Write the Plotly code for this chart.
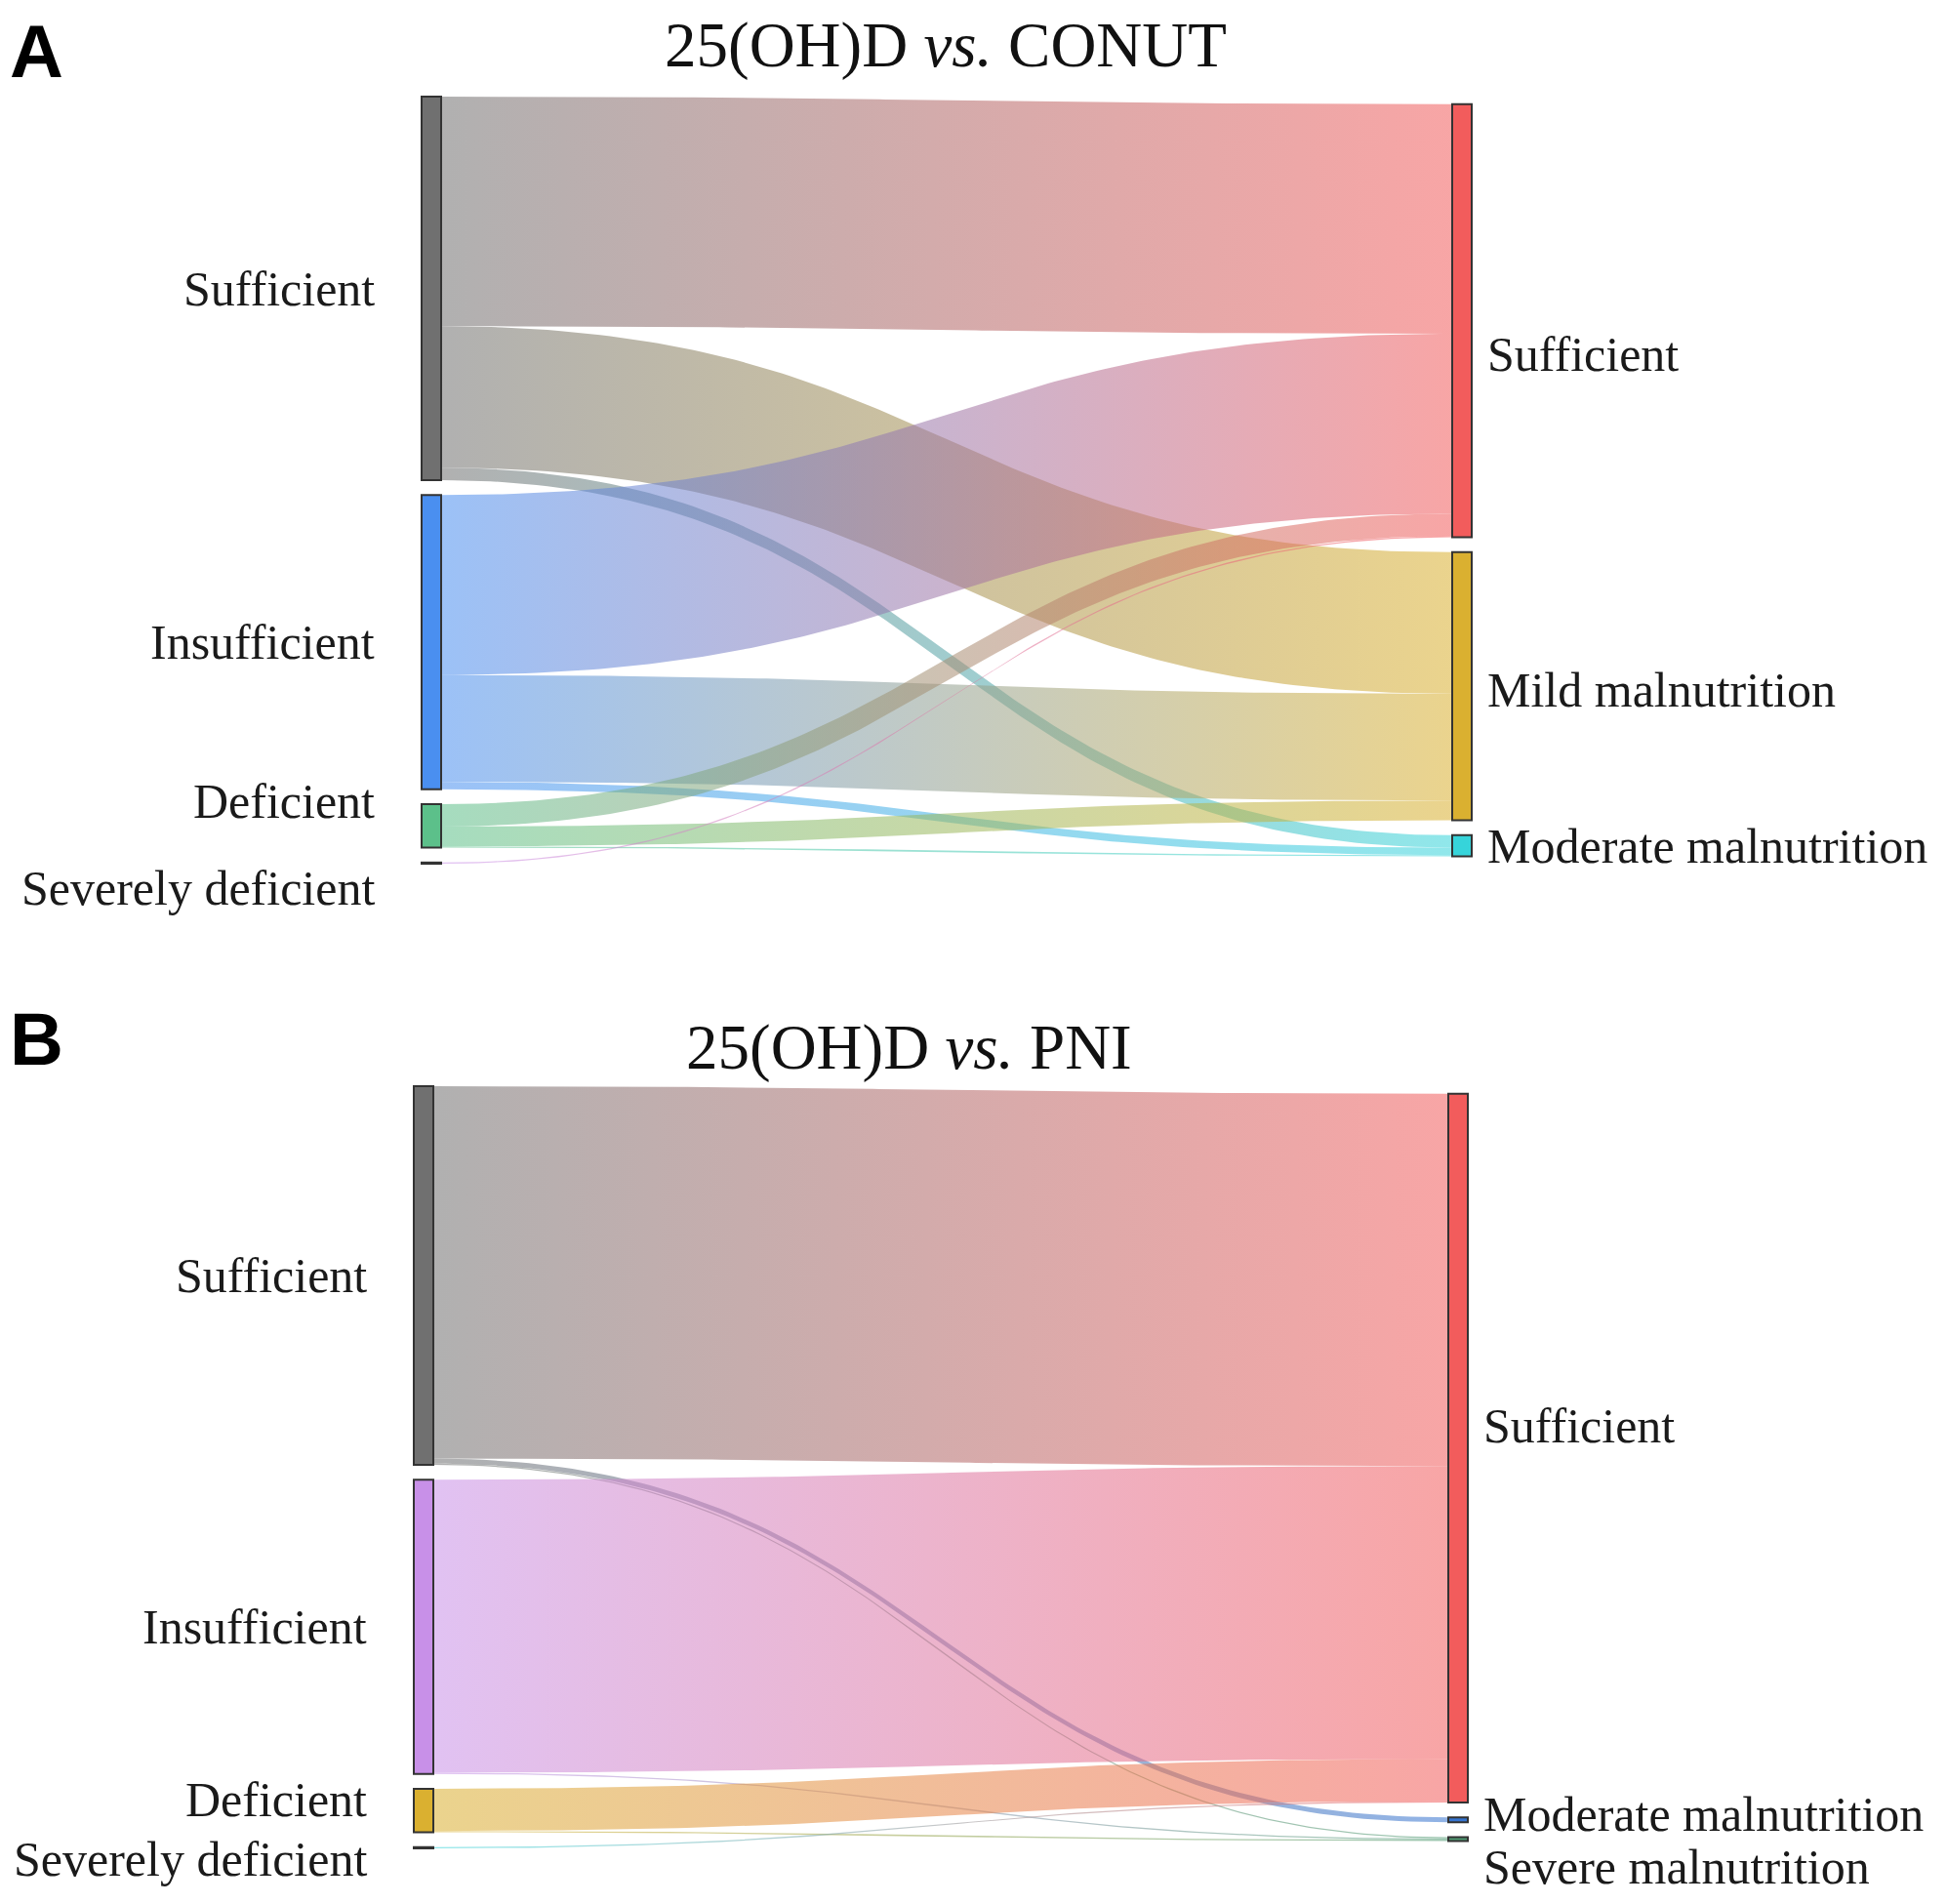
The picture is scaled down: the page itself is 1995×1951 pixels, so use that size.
import numpy as np
import plotly.graph_objects as go

W, H = 1995, 1951
OFF = 8  # page body margin of the html page

# left column (25(OH)D status), same in both panels
vitd = ["Sufficient", "Insufficient", "Deficient", "Severely deficient"]

# A: 25(OH)D vs. CONUT
conut = ["Sufficient", "Mild malnutrition", "Moderate malnutrition"]
a_src = [0, 0, 0, 1, 1, 1, 2, 2, 2, 3]
a_tgt = [0, 1, 2, 0, 1, 2, 0, 1, 2, 0]
a_val = [185, 114, 10, 145, 86, 6, 18, 16, 1, 1]

# B: 25(OH)D vs. PNI
pni = ["Sufficient", "Moderate malnutrition", "Severe malnutrition"]
b_src = [0, 0, 0, 1, 1, 2, 2, 3]
b_tgt = [0, 1, 2, 0, 2, 0, 2, 0]
b_val = [300, 4, 1, 236, 1, 34, 1, 1]

a_left_col = ["#707070", "#4a8ff0", "#5cc08a", "#c890e8"]
a_right_col = ["#f25c5c", "#dab030", "#36d4da"]
b_left_col = ["#707070", "#c890e8", "#dab030", "#36d4da"]
b_right_col = ["#f25c5c", "#3674d0", "#4f9a72"]

K = 1.272      # px per count
GAP = 12       # gap between nodes, in counts
PAD = 40       # extra axis room so labels are not dropped
NODE_W = 20
ALPHA = 0.55
FONT = "Liberation Serif"


def rgba(hexcol, a=ALPHA):
    h = hexcol.lstrip("#")
    r, g, b = int(h[0:2], 16), int(h[2:4], 16), int(h[4:6], 16)
    return "rgba(%d,%d,%d,%.2f)" % (r, g, b, a)


def stack(sizes, span):
    total = sum(sizes) + GAP * (len(sizes) - 1)
    y = (span - total) / 2
    out = []
    for s in sizes:
        out.append(y)
        y += s + GAP
    return out


def spread(centers, sep):
    ys = list(centers)
    for _ in range(20):
        for i in range(len(ys) - 1):
            if ys[i + 1] - ys[i] < sep:
                m = (ys[i] + ys[i + 1]) / 2
                ys[i], ys[i + 1] = m - sep / 2, m + sep / 2
    return ys


fig = go.Figure()


def draw(n, left, right, src, tgt, val, lcol, rcol, top, xl, xr, sep, rnudge,
         title, tx, ty, letter):
    xa = "x" if n == 1 else "x%d" % n
    ya = "y" if n == 1 else "y%d" % n
    top, xl, xr, tx, ty = top - OFF, xl - OFF, xr - OFF, tx - OFF, ty - OFF
    lsize = [sum(v for s, v in zip(src, val) if s == i) for i in range(len(left))]
    rsize = [sum(v for t, v in zip(tgt, val) if t == j) for j in range(len(right))]
    span = max(sum(lsize) + GAP * (len(lsize) - 1), sum(rsize) + GAP * (len(rsize) - 1))
    ly = stack(lsize, span)
    ry = stack(rsize, span)

    # where each link leaves / enters its nodes
    lo, ro = list(ly), list(ry)
    ys, yt = {}, {}
    for i in sorted(range(len(val)), key=lambda i: (src[i], tgt[i])):
        ys[i] = lo[src[i]]
        lo[src[i]] += val[i]
    for i in sorted(range(len(val)), key=lambda i: (tgt[i], src[i])):
        yt[i] = ro[tgt[i]]
        ro[tgt[i]] += val[i]

    t = np.linspace(0, 1, 120)
    x0, x1 = xl + NODE_W, xr
    xs = x0 + (x1 - x0) * (1.5 * t * (1 - t) + t ** 3)
    ease = 3 * t ** 2 - 2 * t ** 3
    for i in range(len(val)):
        up = ys[i] + (yt[i] - ys[i]) * ease
        lo_ = up + val[i]
        fig.add_trace(go.Scatter(
            x=np.concatenate([xs, xs[::-1]]),
            y=np.concatenate([up, lo_[::-1]]),
            mode="lines", fill="toself", line=dict(width=0),
            fillgradient=dict(type="horizontal",
                              colorscale=[[0, rgba(lcol[src[i]])], [1, rgba(rcol[tgt[i]])]],
                              start=x0, stop=x1),
            hoverinfo="skip", showlegend=False, xaxis=xa, yaxis=ya))

    for j in range(len(left)):
        fig.add_shape(type="rect", xref=xa, yref=ya, x0=xl, x1=xl + NODE_W,
                      y0=ly[j], y1=ly[j] + lsize[j], fillcolor=lcol[j],
                      line=dict(color="#333333", width=2))
    for j in range(len(right)):
        fig.add_shape(type="rect", xref=xa, yref=ya, x0=xr, x1=xr + NODE_W,
                      y0=ry[j], y1=ry[j] + rsize[j], fillcolor=rcol[j],
                      line=dict(color="#333333", width=2))

    lc = spread([ly[j] + lsize[j] / 2 for j in range(len(left))], sep)
    rc = spread([ry[j] + rsize[j] / 2 for j in range(len(right))], sep)
    for j, name in enumerate(left):
        fig.add_annotation(x=xl - 46, y=lc[j], xref=xa, yref=ya, text=name,
                           xanchor="right", yanchor="middle", showarrow=False,
                           font=dict(family=FONT, size=50, color="#1a1a1a"))
    for j, name in enumerate(right):
        fig.add_annotation(x=xr + NODE_W + 14, y=rc[j] + rnudge[j], xref=xa, yref=ya,
                           text=name, xanchor="left", yanchor="middle", showarrow=False,
                           font=dict(family=FONT, size=50, color="#1a1a1a"))

    fig.add_annotation(x=tx / W, y=1 - max(ty - 32, 0) / H, xref="paper", yref="paper",
                       text=title, xanchor="center", yanchor="top", showarrow=False,
                       font=dict(family=FONT, size=65, color="#111111"))
    fig.add_annotation(x=0, y=1 - max(ty - 47, 0) / H, xref="paper", yref="paper",
                       text="<b>%s</b>" % letter, xanchor="left", yanchor="top",
                       showarrow=False, font=dict(family="Liberation Sans", size=76, color="#000000"))

    dom = [1 - (top + (span + PAD) * K) / H, 1 - (top - PAD * K) / H]
    fig.update_layout(**{
        ("xaxis" if n == 1 else "xaxis%d" % n): dict(domain=[0, 1], range=[0, W], visible=False,
                                                     anchor=ya, fixedrange=True),
        ("yaxis" if n == 1 else "yaxis%d" % n): dict(domain=dom, range=[span + PAD, -PAD],
                                                     visible=False, anchor=xa, fixedrange=True),
    })


draw(1, vitd, conut, a_src, a_tgt, a_val, a_left_col, a_right_col,
     top=99, xl=432, xr=1488, sep=70, rnudge=[27, 3, 0],
     title="25(OH)D <i>vs.</i> CONUT", tx=969, ty=40, letter="A")
draw(2, vitd, pni, b_src, b_tgt, b_val, b_left_col, b_right_col,
     top=1113, xl=424, xr=1484, sep=48, rnudge=[-18, 12, 6],
     title="25(OH)D <i>vs.</i> PNI", tx=931, ty=1067, letter="B")

fig.update_layout(width=W, height=H, margin=dict(l=0, r=0, t=0, b=0),
                  plot_bgcolor="white", paper_bgcolor="white")

fig.write_html("out.html")
